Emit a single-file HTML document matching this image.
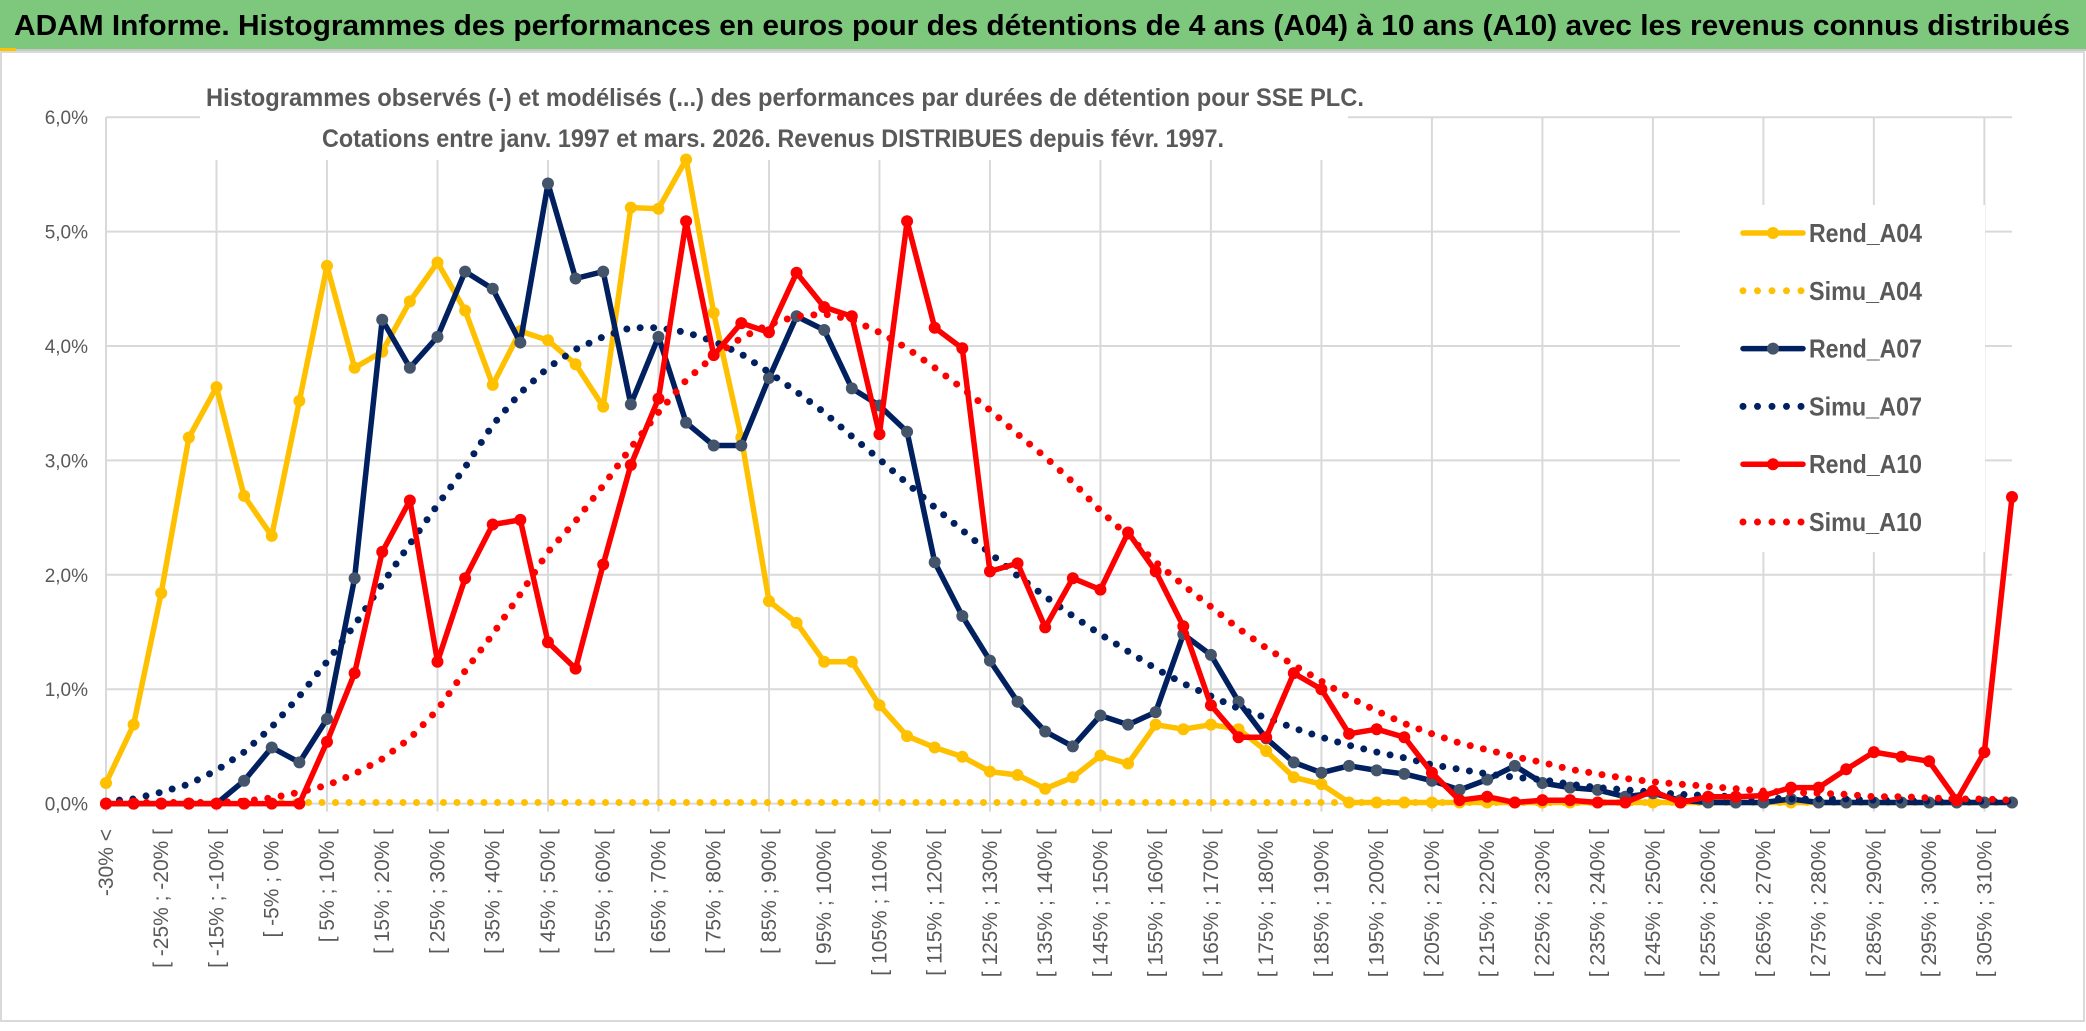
<!DOCTYPE html>
<html><head><meta charset="utf-8"><style>
html,body{margin:0;padding:0;background:#fff;}
svg{display:block;font-family:"Liberation Sans",sans-serif;}
</style></head><body>
<svg id="chart" width="2086" height="1031" viewBox="0 0 2086 1031">
<rect x="0" y="0" width="2086" height="1031" fill="#fff"/>
<rect x="0" y="0" width="2086" height="50" fill="#7dc87d"/>
<line x1="0" y1="50" x2="2086" y2="50" stroke="#c8c8c8" stroke-width="2"/>
<rect x="0" y="48" width="16" height="4" fill="#ffc000"/>
<text x="14" y="35" font-size="29" font-weight="bold" fill="#000" textLength="2056" lengthAdjust="spacingAndGlyphs">ADAM Informe. Histogrammes des performances en euros pour des détentions de 4 ans (A04) à 10 ans (A10) avec les revenus connus distribués</text>
<rect x="1" y="52" width="2083" height="969" fill="none" stroke="#d9d9d9" stroke-width="2"/>
<g id="grid"></g>
<g id="ylabels"></g>
<g id="xlabels"></g>
<rect x="200" y="70" width="1148" height="90" fill="#fff"/>
<text x="206" y="106" font-size="25" font-weight="bold" fill="#595959" textLength="1158" lengthAdjust="spacingAndGlyphs">Histogrammes observés (-) et modélisés (...) des performances par durées de détention pour SSE PLC.</text>
<text x="322" y="147" font-size="25" font-weight="bold" fill="#595959" textLength="902" lengthAdjust="spacingAndGlyphs">Cotations entre janv. 1997 et mars. 2026. Revenus DISTRIBUES depuis févr. 1997.</text>
<g id="series"></g>
<g id="legend"></g>
</svg>
<script>
const categories = ["-30% <","[ -30% ; -25% [","[ -25% ; -20% [","[ -20% ; -15% [","[ -15% ; -10% [","[ -10% ; -5% [","[ -5% ; 0% [","[ 0% ; 5% [","[ 5% ; 10% [","[ 10% ; 15% [",
"[ 15% ; 20% [","[ 20% ; 25% [","[ 25% ; 30% [","[ 30% ; 35% [","[ 35% ; 40% [","[ 40% ; 45% [","[ 45% ; 50% [","[ 50% ; 55% [","[ 55% ; 60% [","[ 60% ; 65% [",
"[ 65% ; 70% [","[ 70% ; 75% [","[ 75% ; 80% [","[ 80% ; 85% [","[ 85% ; 90% [","[ 90% ; 95% [","[ 95% ; 100% [","[ 100% ; 105% [","[ 105% ; 110% [","[ 110% ; 115% [",
"[ 115% ; 120% [","[ 120% ; 125% [","[ 125% ; 130% [","[ 130% ; 135% [","[ 135% ; 140% [","[ 140% ; 145% [","[ 145% ; 150% [","[ 150% ; 155% [","[ 155% ; 160% [","[ 160% ; 165% [",
"[ 165% ; 170% [","[ 170% ; 175% [","[ 175% ; 180% [","[ 180% ; 185% [","[ 185% ; 190% [","[ 190% ; 195% [","[ 195% ; 200% [","[ 200% ; 205% [","[ 205% ; 210% [","[ 210% ; 215% [",
"[ 215% ; 220% [","[ 220% ; 225% [","[ 225% ; 230% [","[ 230% ; 235% [","[ 235% ; 240% [","[ 240% ; 245% [","[ 245% ; 250% [","[ 250% ; 255% [","[ 255% ; 260% [","[ 260% ; 265% [",
"[ 265% ; 270% [","[ 270% ; 275% [","[ 275% ; 280% [","[ 280% ; 285% [","[ 285% ; 290% [","[ 290% ; 295% [","[ 295% ; 300% [","[ 300% ; 305% [","[ 305% ; 310% [","[ 310% ; 315% ["];
const rendA04 = [0.18,0.69,1.84,3.2,3.64,2.69,2.34,3.52,4.7,3.81,3.95,4.39,4.73,4.31,3.66,4.13,4.05,3.84,3.47,5.21,5.2,5.63,4.29,3.2,1.77,1.58,1.24,1.24,0.86,0.59,0.49,0.41,0.28,0.25,0.13,0.23,0.42,0.35,0.69,0.65,0.69,0.65,0.46,0.23,0.17,0.01,0.01,0.01,0.01,0.01,0.01,0.01,0.01,0.01,0.01,0.01,0.01,0.01,0.01,0.01,0.01,0.01,0.01,0.01,0.01,0.01,0.01,0.01,0.01,0.01];
const simuA04 = [0.01,0.01,0.01,0.01,0.01,0.01,0.01,0.01,0.01,0.01,0.01,0.01,0.01,0.01,0.01,0.01,0.01,0.01,0.01,0.01,0.01,0.01,0.01,0.01,0.01,0.01,0.01,0.01,0.01,0.01,0.01,0.01,0.01,0.01,0.01,0.01,0.01,0.01,0.01,0.01,0.01,0.01,0.01,0.01,0.01,0.01,0.01,0.01,0.01,0.01,0.01,0.01,0.01,0.01,0.01,0.01,0.01,0.01,0.01,0.01,0.01,0.01,0.01,0.01,0.01,0.01,0.01,0.01,0.01,0.01];
const rendA07 = [0,0,0,0,0,0.2,0.49,0.36,0.74,1.97,4.23,3.81,4.08,4.65,4.5,4.03,5.42,4.59,4.65,3.49,4.08,3.33,3.13,3.13,3.72,4.26,4.14,3.63,3.48,3.25,2.11,1.64,1.25,0.89,0.63,0.5,0.77,0.69,0.8,1.48,1.3,0.89,0.57,0.36,0.27,0.33,0.29,0.26,0.2,0.12,0.21,0.33,0.18,0.14,0.12,0.06,0.09,0.03,0.01,0.01,0.01,0.04,0.01,0.01,0.01,0.01,0.01,0.01,0.01,0.01];
const simuA07 = [0.02,0.04,0.1,0.17,0.29,0.45,0.67,0.94,1.24,1.56,1.92,2.27,2.61,2.94,3.31,3.59,3.81,3.97,4.08,4.16,4.16,4.12,4.04,3.93,3.77,3.6,3.42,3.21,3.01,2.8,2.59,2.39,2.19,1.99,1.81,1.64,1.48,1.33,1.18,1.05,0.94,0.83,0.75,0.66,0.58,0.51,0.45,0.4,0.34,0.3,0.26,0.23,0.21,0.17,0.14,0.12,0.1,0.08,0.07,0.06,0.05,0.04,0.04,0.04,0.03,0.03,0.02,0.02,0.02,0.02];
const rendA10 = [0,0,0,0,0,0,0,0,0.54,1.14,2.2,2.65,1.24,1.97,2.44,2.48,1.41,1.18,2.09,2.96,3.54,5.09,3.92,4.2,4.12,4.64,4.34,4.26,3.23,5.09,4.16,3.98,2.03,2.1,1.54,1.97,1.87,2.37,2.03,1.55,0.86,0.58,0.58,1.14,1.0,0.61,0.65,0.58,0.27,0.03,0.06,0.01,0.03,0.03,0.01,0.01,0.11,0.01,0.06,0.06,0.07,0.14,0.14,0.3,0.45,0.41,0.37,0.03,0.45,2.68];
const simuA10 = [0.01,0.01,0.01,0.01,0.01,0.02,0.05,0.1,0.16,0.26,0.39,0.57,0.82,1.16,1.48,1.83,2.2,2.47,2.78,3.11,3.42,3.7,3.91,4.07,4.19,4.26,4.28,4.23,4.12,3.98,3.81,3.63,3.44,3.23,3.03,2.81,2.56,2.34,2.11,1.91,1.72,1.53,1.36,1.21,1.07,0.93,0.81,0.7,0.61,0.53,0.47,0.41,0.36,0.3,0.26,0.22,0.19,0.17,0.15,0.13,0.11,0.1,0.09,0.08,0.06,0.06,0.05,0.04,0.04,0.03];
const yTicks = [0,1,2,3,4,5,6];
const yTickLabels = ["0,0%","1,0%","2,0%","3,0%","4,0%","5,0%","6,0%"];
const seriesNames = ["Rend_A04","Simu_A04","Rend_A07","Simu_A07","Rend_A10","Simu_A10"];

const NS = "http://www.w3.org/2000/svg";
const X0 = 106, XSTEP = (2012 - 106) / 69, Y0 = 803.6, YPER = 114.4;
function xPos(i){ return X0 + i * XSTEP; }
function yPos(v){ return Y0 - v * YPER; }
function mk(tag, attrs, parent){
  const e = document.createElementNS(NS, tag);
  for (const k in attrs) e.setAttribute(k, attrs[k]);
  parent.appendChild(e);
  return e;
}
const grid = document.getElementById('grid');
yTicks.forEach((t, k) => {
  const l = mk('line', {x1: X0, x2: 2012, y1: yPos(t), y2: yPos(t), stroke: '#d9d9d9', 'stroke-width': 2}, grid);
  
  
  const tx = mk('text', {x: 88, y: yPos(t) + 7, 'text-anchor': 'end', 'font-size': 19, fill: '#595959'}, document.getElementById('ylabels'));
  tx.textContent = yTickLabels[k];
  
  
});
categories.forEach((c, i) => {
  if (i % 4 === 0) {
    const l = mk('line', {x1: xPos(i), x2: xPos(i), y1: yPos(6), y2: Y0 + 8, stroke: '#d9d9d9', 'stroke-width': 2}, grid);
    
    
  }
  if (i % 2 === 0) {
    const x = xPos(i) + 7, y = 829;
    const tx = mk('text', {x: x, y: y, transform: 'rotate(-90 ' + x + ' ' + y + ')', 'text-anchor': 'end', 'font-size': 21, fill: '#595959'}, document.getElementById('xlabels'));
    tx.textContent = c;
    
    
  }
});
const seriesLayer = document.getElementById('series');
function drawSolid(vals, color, mcolor, name){
  const g = mk('g', {}, seriesLayer);
  
  
  const p = mk('polyline', {points: vals.map((v, i) => xPos(i).toFixed(1) + ',' + yPos(v).toFixed(1)).join(' '), fill: 'none', stroke: color, 'stroke-width': 5.5, 'stroke-linejoin': 'round'}, g);
  
  
  vals.forEach((v, i) => {
    const c = mk('circle', {cx: xPos(i), cy: yPos(v), r: 6, fill: mcolor}, g);
    
    
  });
}
function drawDotted(vals, color, name){
  const p = mk('polyline', {points: vals.map((v, i) => xPos(i).toFixed(1) + ',' + yPos(v).toFixed(1)).join(' '), fill: 'none', stroke: color, 'stroke-width': 7, 'stroke-linecap': 'round', 'stroke-dasharray': '0 13.5'}, seriesLayer);
  
  
}
drawSolid(rendA04, '#ffc000', '#ffc000', 'rend-a04');
drawDotted(simuA04, '#ffc000', 'simu-a04');
drawSolid(rendA07, '#002060', '#44546a', 'rend-a07');
drawDotted(simuA07, '#002060', 'simu-a07');
drawSolid(rendA10, '#ff0000', '#ff0000', 'rend-a10');
drawDotted(simuA10, '#ff0000', 'simu-a10');

const legend = document.getElementById('legend');
const lbg = mk('rect', {x: 1680, y: 205, width: 305, height: 347, fill: '#fff'}, legend);


const legColors = ['#ffc000','#ffc000','#002060','#002060','#ff0000','#ff0000'];
const legMarker = ['#ffc000',null,'#44546a',null,'#ff0000',null];
seriesNames.forEach((n, k) => {
  const y = 233 + k * 57.8;
  const g = mk('g', {}, legend);
  
  
  if (legMarker[k]) {
    mk('line', {x1: 1743, x2: 1803, y1: y, y2: y, stroke: legColors[k], 'stroke-width': 5.5, 'stroke-linecap': 'round'}, g);
    mk('circle', {cx: 1773, cy: y, r: 6, fill: legMarker[k]}, g);
  } else {
    mk('line', {x1: 1743, x2: 1803, y1: y, y2: y, stroke: legColors[k], 'stroke-width': 7, 'stroke-linecap': 'round', 'stroke-dasharray': '0 14.5'}, g);
  }
  const t = mk('text', {x: 1809, y: y + 9, 'font-size': 26, 'font-weight': 'bold', fill: '#595959', textLength: 113, lengthAdjust: 'spacingAndGlyphs'}, g);
  t.textContent = n;
});
</script>
</body></html>
